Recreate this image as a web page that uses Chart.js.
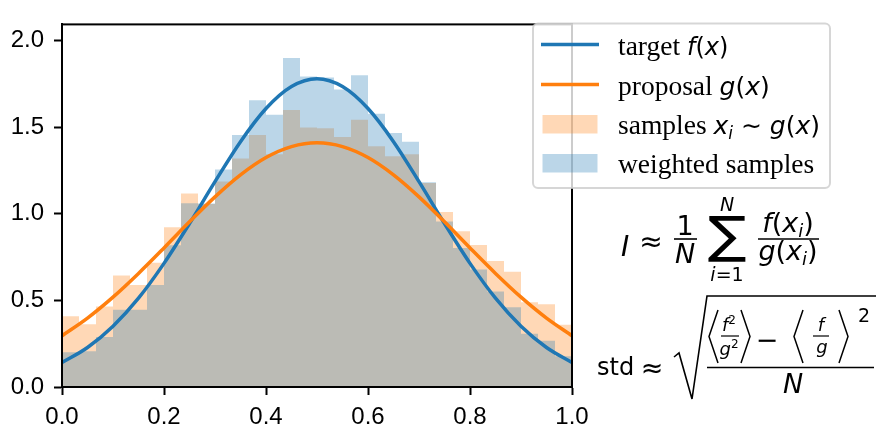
<!DOCTYPE html>
<html><head><meta charset="utf-8">
<script src="https://cdn.jsdelivr.net/npm/chart.js@4.4.1/dist/chart.umd.min.js"></script>
<style>
html,body{margin:0;padding:0;background:#fff;}
#wrap{position:relative;width:876px;height:426px;overflow:hidden;}
#c{position:absolute;left:0;top:0;}
#ov{position:absolute;left:0;top:0;pointer-events:none;}
</style></head><body>
<div id="wrap">
<canvas id="c" width="876" height="426"></canvas>
<svg id="ov" width="876" height="426" xmlns="http://www.w3.org/2000/svg">
  <!-- legend -->
  <rect x="533" y="23.5" width="297" height="164.5" rx="5" ry="5" fill="rgba(255,255,255,0.8)" stroke="rgba(204,204,204,0.8)" stroke-width="2"/>
  <line x1="541" x2="599" y1="44.5" y2="44.5" stroke="#1f77b4" stroke-width="3.5"/>
  <line x1="541" x2="599" y1="84.5" y2="84.5" stroke="#ff7f0e" stroke-width="3.5"/>
  <rect x="542.5" y="115" width="55" height="18.5" fill="rgba(255,127,14,0.3)"/>
  <rect x="542.5" y="154" width="55" height="18.5" fill="rgba(31,119,180,0.3)"/>
  <g font-family="'Liberation Serif', serif" font-size="27.5" fill="#000">
    <text x="618" y="55">target <tspan font-family="'DejaVu Sans'" font-size="24"><tspan font-style="italic">f</tspan>(<tspan font-style="italic">x</tspan>)</tspan></text>
    <text x="618" y="95">proposal <tspan font-family="'DejaVu Sans'" font-size="25"><tspan font-style="italic">g</tspan>(<tspan font-style="italic">x</tspan>)</tspan></text>
    <text x="618" y="133.5">samples <tspan font-family="'DejaVu Sans'" font-size="25"><tspan font-style="italic">x</tspan><tspan font-style="italic" font-size="17" dy="5">i</tspan><tspan dy="-5"> ∼ </tspan><tspan font-style="italic">g</tspan>(<tspan font-style="italic">x</tspan>)</tspan></text>
    <text x="618" y="172.5">weighted samples</text>
  </g>
  <!-- formula 1 -->
  <g font-family="'DejaVu Sans', sans-serif" fill="#000">
    <text x="621" y="256" font-size="28" font-style="italic">I</text>
    <text x="651" y="251" font-size="28" text-anchor="middle">≈</text>
    <text x="685" y="235" font-size="27" text-anchor="middle">1</text>
    <line x1="674" x2="697" y1="239" y2="239" stroke="#000" stroke-width="1.6"/>
    <text x="685" y="263" font-size="27" font-style="italic" text-anchor="middle">N</text>
    <text x="727" y="211" font-size="19" font-style="italic" text-anchor="middle">N</text>
    <text transform="translate(727,252) scale(1.15,1)" x="0" y="0" font-size="50" text-anchor="middle">∑</text>
    <text x="727" y="281" font-size="19" text-anchor="middle"><tspan font-style="italic">i</tspan>=1</text>
    <text x="788" y="232" font-size="27" text-anchor="middle"><tspan font-style="italic">f</tspan>(<tspan font-style="italic">x</tspan><tspan font-style="italic" font-size="18" dy="5">i</tspan><tspan dy="-5">)</tspan></text>
    <line x1="758" x2="819" y1="239" y2="239" stroke="#000" stroke-width="1.6"/>
    <text x="788" y="260" font-size="27" text-anchor="middle"><tspan font-style="italic">g</tspan>(<tspan font-style="italic">x</tspan><tspan font-style="italic" font-size="18" dy="5">i</tspan><tspan dy="-5">)</tspan></text>
  </g>
  <!-- formula 2 -->
  <g font-family="'DejaVu Sans', sans-serif" fill="#000">
    <text x="597" y="375" font-size="24">std</text>
    <text x="652" y="377" font-size="27" text-anchor="middle">≈</text>
    <path d="M674 357 L679 353 L692 399 L707 296 L876 296" fill="none" stroke="#000" stroke-width="1.6"/>
    <polyline points="718,310 709,336.5 718,363" fill="none" stroke="#000" stroke-width="1.5"/>
    <text x="729" y="331" font-size="18" text-anchor="middle"><tspan font-style="italic">f</tspan><tspan font-size="12" dy="-7">2</tspan></text>
    <line x1="721" x2="739" y1="336" y2="336" stroke="#000" stroke-width="1.2"/>
    <text x="729" y="355" font-size="18" text-anchor="middle"><tspan font-style="italic">g</tspan><tspan font-size="12" dy="-7">2</tspan></text>
    <polyline points="741,310 750,336.5 741,363" fill="none" stroke="#000" stroke-width="1.5"/>
    <text x="767" y="349" font-size="27" text-anchor="middle">−</text>
    <polyline points="803,310 794,336.5 803,363" fill="none" stroke="#000" stroke-width="1.5"/>
    <text x="821" y="331" font-size="18" font-style="italic" text-anchor="middle">f</text>
    <line x1="813" x2="829" y1="336" y2="336" stroke="#000" stroke-width="1.2"/>
    <text x="822" y="353" font-size="18" font-style="italic" text-anchor="middle">g</text>
    <polyline points="839,310 848,336.5 839,363" fill="none" stroke="#000" stroke-width="1.5"/>
    <text x="858" y="322" font-size="19">2</text>
    <line x1="707" x2="874" y1="367.5" y2="367.5" stroke="#000" stroke-width="1.6"/>
    <text x="793" y="393" font-size="27" font-style="italic" text-anchor="middle">N</text>
  </g>
</svg>
</div>
<script>
// ---- data ----
const binCount = 30;
const samplesHist = [0.409, 0.363, 0.465, 0.644, 0.589, 0.718, 0.922, 1.117, 1.057, 1.187,
                     1.320, 1.456, 1.344, 1.600, 1.498, 1.494, 1.444, 1.544, 1.391, 1.333,
                     1.344, 1.178, 1.011, 0.900, 0.820, 0.728, 0.665, 0.489, 0.478, 0.359];
const weightedHist = [0.200, 0.206, 0.289, 0.446, 0.446, 0.589, 0.819, 1.061, 1.060, 1.256,
                      1.456, 1.656, 1.572, 1.900, 1.793, 1.787, 1.718, 1.800, 1.578, 1.467,
                      1.417, 1.183, 0.956, 0.802, 0.678, 0.552, 0.461, 0.307, 0.267, 0.178];
const curveX = [0, 0.05, 0.1, 0.15, 0.2, 0.25, 0.3, 0.35, 0.4, 0.45, 0.5,
                0.55, 0.6, 0.65, 0.7, 0.75, 0.8, 0.85, 0.9, 0.95, 1.0];
const targetF = [0.141, 0.228, 0.351, 0.513, 0.714, 0.944, 1.186, 1.417, 1.608, 1.735, 1.780,
                 1.735, 1.608, 1.417, 1.186, 0.944, 0.714, 0.513, 0.351, 0.228, 0.141];
const proposalG = [0.296, 0.398, 0.519, 0.656, 0.803, 0.954, 1.098, 1.225, 1.325, 1.388, 1.410,
                   1.388, 1.325, 1.225, 1.098, 0.954, 0.803, 0.656, 0.519, 0.398, 0.296];
const xTicks = [0.0, 0.2, 0.4, 0.6, 0.8, 1.0];
const yTicks = [0.0, 0.5, 1.0, 1.5, 2.0];
const yMax = 2.094;

const binLabels = samplesHist.map((_, i) => 'bin ' + (i + 1));

const frame = {
  id: 'frame',
  afterDraw(chart) {
    const a = chart.chartArea, c = chart.ctx;
    c.save();
    c.strokeStyle = '#000';
    c.lineWidth = 2;
    c.strokeRect(a.left, a.top, a.right - a.left, a.bottom - a.top);
    c.restore();
  }
};

const tickFont = { family: "'Liberation Sans', Arial, sans-serif", size: 24 };

new Chart(document.getElementById('c'), {
  type: 'bar',
  data: {
    labels: binLabels,
    datasets: [
      { type: 'line', label: 'proposal g(x)', xAxisID: 'xl', yAxisID: 'y',
        data: curveX.map((x, i) => ({ x: x, y: proposalG[i] })),
        borderColor: '#ff7f0e', borderWidth: 3.5, pointRadius: 0, fill: false,
        cubicInterpolationMode: 'monotone', order: 0 },
      { type: 'line', label: 'target f(x)', xAxisID: 'xl', yAxisID: 'y',
        data: curveX.map((x, i) => ({ x: x, y: targetF[i] })),
        borderColor: '#1f77b4', borderWidth: 3.5, pointRadius: 0, fill: false,
        cubicInterpolationMode: 'monotone', order: 1 },
      { type: 'bar', label: 'weighted samples', xAxisID: 'x', yAxisID: 'y',
        data: weightedHist, backgroundColor: 'rgba(31,119,180,0.3)', borderWidth: 0,
        barPercentage: 1, categoryPercentage: 1, grouped: false, inflateAmount: 0, order: 2 },
      { type: 'bar', label: 'samples', xAxisID: 'x', yAxisID: 'y',
        data: samplesHist, backgroundColor: 'rgba(255,127,14,0.3)', borderWidth: 0,
        barPercentage: 1, categoryPercentage: 1, grouped: false, inflateAmount: 0, order: 3 }
    ]
  },
  options: {
    responsive: false,
    animation: false,
    events: [],
    layout: { padding: { left: 0, top: 10, right: 304, bottom: 0 } },
    plugins: { legend: { display: false }, tooltip: { enabled: false } },
    scales: {
      x: { type: 'category', display: false, offset: true },
      xl: {
        type: 'linear', position: 'bottom', min: 0, max: 1, offset: false,
        afterBuildTicks(s) { s.ticks = xTicks.map(v => ({ value: v })); },
        afterFit(s) { s.height = 39; },
        ticks: { font: tickFont, color: '#000', padding: 8, maxRotation: 0, autoSkip: false,
                 callback: v => Number(v).toFixed(1) },
        grid: { offset: false, drawOnChartArea: false, tickLength: 8, tickWidth: 2, tickColor: '#000' },
        border: { display: true, color: '#000', width: 2 }
      },
      y: {
        min: 0, max: yMax,
        afterBuildTicks(s) { s.ticks = yTicks.map(v => ({ value: v })); },
        afterFit(s) { s.width = 62; },
        ticks: { font: tickFont, color: '#000', padding: 10,
                 callback: v => Number(v).toFixed(1) },
        grid: { drawOnChartArea: false, tickLength: 8, tickWidth: 2, tickColor: '#000' },
        border: { display: true, color: '#000', width: 2 }
      }
    }
  },
  plugins: [frame]
});
</script>
</body></html>
